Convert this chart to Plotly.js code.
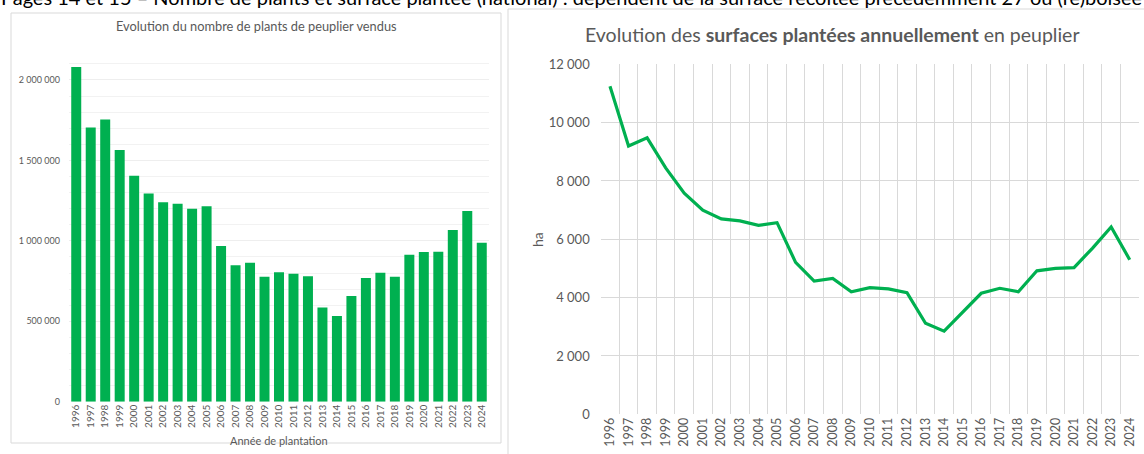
<!DOCTYPE html>
<html><head><meta charset="utf-8">
<script src="https://cdn.plot.ly/plotly-3.0.1.min.js"></script>
<style>html,body{margin:0;padding:0;background:#fff;overflow:hidden;} #chart{width:1144px;height:454px;}</style>
</head><body><div id="chart"></div>
<script>
// ---- data ----
const years = [1996,1997,1998,1999,2000,2001,2002,2003,2004,2005,2006,2007,2008,2009,2010,2011,2012,2013,2014,2015,2016,2017,2018,2019,2020,2021,2022,2023,2024];
const plantsVendus = [2080000,1705000,1755000,1565000,1405000,1295000,1240000,1230000,1200000,1215000,968000,848000,864000,777000,805000,796000,780000,585000,533000,657000,769000,802000,777000,914000,930000,932000,1068000,1185000,988000];
const surfacesHa = [11250,9200,9480,8450,7580,7000,6700,6630,6480,6570,5210,4570,4660,4200,4340,4300,4170,3120,2850,3500,4150,4320,4200,4920,5000,5030,5700,6420,5300];
const leftYTicks = [0,500000,1000000,1500000,2000000];
const rightYTicks = [0,2000,4000,6000,8000,10000,12000];
const captionText = "Pages 14 et 15 – Nombre de plants et surface plantée (national) : dépendent de la surface récoltée précédemment 27 ou (re)boisée";
const leftTitle = "Evolution du nombre de plants de peuplier vendus";
const leftXTitle = "Année de plantation";
const rightTitle = "Evolution des <b>surfaces plantées annuellement</b> en peuplier";
const rightYTitle = "ha";

// ---- layout helpers (pixel -> paper) ----
const W = 1144, H = 454;
const px = x => x / W;
const py = y => (H - y) / H;

const green = "#00B050";
const txt = "#595959";
const FONT = "Lato, 'Open Sans', sans-serif";

const traces = [
  {
    type: "bar", x: years, y: plantsVendus, xaxis: "x", yaxis: "y",
    marker: {color: green, line: {width: 0}}, hoverinfo: "x+y", showlegend: false
  },
  {
    type: "scatter", mode: "lines", x: years, y: surfacesHa, xaxis: "x2", yaxis: "y2",
    line: {color: green, width: 3.2}, hoverinfo: "x+y", showlegend: false
  }
];

const layout = {
  width: W, height: H,
  margin: {l: 0, r: 0, t: 0, b: 0},
  paper_bgcolor: "#fff", plot_bgcolor: "rgba(0,0,0,0)",
  separators: ", ",
  font: {family: FONT, color: txt},
  bargap: 0.31,
  xaxis: {
    domain: [px(69), px(489)], anchor: "y",
    range: [years[0] - 0.5, years[years.length - 1] + 0.5],
    tickmode: "array", tickvals: years, ticktext: years.map(String),
    tickangle: -90, tickfont: {size: 10, color: txt, family: FONT},
    showgrid: false, zeroline: false, showline: false, ticks: "", ticklen: 0
  },
  yaxis: {
    domain: [py(401.7), py(47.8)], anchor: "x",
    range: [0, 2200000],
    tickmode: "array", tickvals: leftYTicks, tickformat: ",d",
    tickfont: {size: 9, color: txt, family: FONT},
    showgrid: true, gridcolor: "#eeeeee", gridwidth: 1,
    minor: {dtick: 100000, tick0: 0, showgrid: true, gridcolor: "#f2f2f2", gridwidth: 1},
    zeroline: false, showline: false, ticks: "", ticklabelstandoff: 8
  },
  xaxis2: {
    domain: [px(600.7), px(1139)], anchor: "y2",
    range: [years[0] - 0.5, years[years.length - 1] + 0.5],
    tickmode: "array", tickvals: years, ticktext: years.map(String),
    tickangle: -90, tickfont: {size: 12.5, color: txt, family: FONT},
    showgrid: false, zeroline: false, showline: false, ticks: "",
    minor: {tick0: years[0] - 0.5, dtick: 1, showgrid: true, gridcolor: "#d9d9d9", gridwidth: 1, ticks: ""}
  },
  yaxis2: {
    domain: [py(414.3), py(64.3)], anchor: "x2",
    range: [0, 12000],
    tickmode: "array", tickvals: rightYTicks, tickformat: ",d",
    tickfont: {size: 13, color: txt, family: FONT},
    showgrid: true, gridcolor: "#d9d9d9", gridwidth: 1,
    zeroline: false, showline: false, ticks: "", ticklabelstandoff: 10
  },
  shapes: [
    {type: "rect", xref: "paper", yref: "paper", x0: px(11), x1: px(501), y0: py(443), y1: py(13),
     line: {color: "#d9d9d9", width: 1}, fillcolor: "rgba(0,0,0,0)", layer: "below"},
    {type: "rect", xref: "paper", yref: "paper", x0: px(508), x1: px(1160), y0: py(470), y1: py(9),
     line: {color: "#d9d9d9", width: 1}, fillcolor: "rgba(0,0,0,0)", layer: "below"}
  ],
  annotations: [
    {text: captionText, xref: "paper", yref: "paper", x: px(-1), y: py(-3), xanchor: "left", yanchor: "middle",
     showarrow: false, font: {size: 20, color: "#000", family: FONT}},
    {text: leftTitle, xref: "paper", yref: "paper", x: px(256), y: py(26), xanchor: "center", yanchor: "middle",
     showarrow: false, font: {size: 12.8, color: txt, family: FONT}},
    {text: leftXTitle, xref: "paper", yref: "paper", x: px(279), y: py(440), xanchor: "center", yanchor: "middle",
     showarrow: false, font: {size: 11, color: txt, family: FONT}},
    {text: rightTitle, xref: "paper", yref: "paper", x: px(832), y: py(34), xanchor: "center", yanchor: "middle",
     showarrow: false, font: {size: 19.5, color: txt, family: FONT}},
    {text: rightYTitle, xref: "paper", yref: "paper", x: px(537), y: py(240), xanchor: "center", yanchor: "middle",
     textangle: -90, showarrow: false, font: {size: 14, color: txt, family: FONT}}
  ]
};

Plotly.newPlot("chart", traces, layout, {staticPlot: true, displayModeBar: false});
</script>
</body></html>
